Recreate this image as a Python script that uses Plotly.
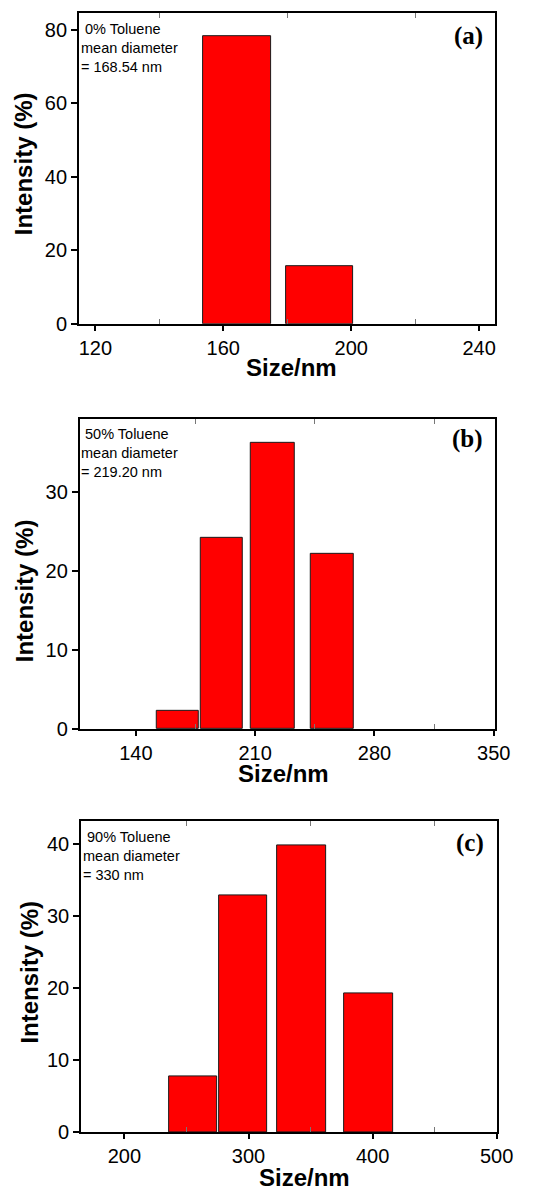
import plotly.graph_objects as go

W, H = 534, 1202

# Panel (a): 0% toluene
a_lo = [153.6, 179.5]
a_hi = [174.9, 200.7]
a_int = [78.2, 15.8]

# Panel (b): 50% toluene
b_lo = [152.0, 177.8, 207.5, 242.4]
b_hi = [177.0, 203.0, 233.0, 267.6]
b_int = [2.25, 24.15, 36.2, 22.15]

# Panel (c): 90% toluene
c_lo = [235.9, 276.3, 322.9, 377.2]
c_hi = [275.0, 315.2, 362.2, 416.3]
c_int = [7.77, 32.93, 39.9, 19.29]

a_ticks = [120, 160, 200, 240]
b_ticks = [140, 210, 280, 350]
c_ticks = [200, 300, 400, 500]

a_note = ["\u00a00% Toluene", "mean diameter", "= 168.54 nm"]
b_note = ["\u00a050% Toluene", "mean diameter", "= 219.20 nm"]
c_note = ["\u00a090% Toluene", "mean diameter", "= 330 nm"]

SANS = "Arial, Liberation Sans, sans-serif"
SERIF = "Times New Roman, Liberation Serif, serif"


def px_x(x):
    return x / W


def px_y(y):
    return 1 - y / H


panels = [
    # bins, ticks, note, tag, frame px (left, right, top, bottom), x range, y range, y dtick
    (a_lo, a_hi, a_int, a_ticks, a_note, "(a)", (81.7, 511.7, 13.3, 326.7), [114.9, 245.1], [0, 84.6], 20,
     dict(title=(301, 370.5), ytitle=(24.5, 165), tag=(484, 36))),
    (b_lo, b_hi, b_int, b_ticks, b_note, "(b)", (82.4, 511.7, 422.7, 735.7), [107.05, 351], [0, 39.2], 10,
     dict(title=(292.5, 780.5), ytitle=(25.5, 596), tag=(483, 443))),
    (c_lo, c_hi, c_int, c_ticks, c_note, "(c)", (83.8, 513.0, 829, 1142.7), [165.1, 500], [0, 43.2], 10,
     dict(title=(314, 1188.5), ytitle=(29.5, 981), tag=(485.5, 851))),
]

n = len(panels)
fig = go.Figure()
annotations = []

axis_line = dict(showline=True, linecolor="black", linewidth=2, showgrid=False, zeroline=False)

for i, (lo, hi, inten, ticks, note, tag, frame, xr, yr, ydt, pos) in enumerate(panels, start=1):
    xa = "x" if i == 1 else f"x{i}"
    ya = "y" if i == 1 else f"y{i}"
    centers = [(l + h) / 2 for l, h in zip(lo, hi)]
    widths = [h - l for l, h in zip(lo, hi)]
    fig.add_trace(go.Bar(
        x=centers, y=inten, width=widths,
        marker=dict(color="#FF0000", line=dict(color="#1a1a1a", width=1)),
        xaxis=xa, yaxis=ya, showlegend=False,
    ))
    left, right, top, bottom = frame
    dt = ticks[1] - ticks[0]
    minor_vals = [t + dt / 2 for t in ticks[:-1]]
    top_id = n + i
    fig.update_layout(**{
        ("xaxis" if i == 1 else f"xaxis{i}"): dict(
            domain=[px_x(left), px_x(right)], anchor=ya, range=xr,
            tickvals=ticks, ticks="outside", ticklen=5, tickwidth=1.5, tickcolor="black",
            mirror=True, **axis_line,
            tickfont=dict(family=SANS, size=20, color="black"),
            minor=dict(tickvals=minor_vals, ticks="inside",
                       ticklen=5, tickwidth=1, tickcolor="#777777", showgrid=False),
        ),
        # top edge: minor ticks only
        f"xaxis{top_id}": dict(
            overlaying=xa, anchor=ya, side="top", range=xr,
            showticklabels=False, tickvals=[], ticks="",
            showline=False, showgrid=False, zeroline=False,
            minor=dict(tickvals=minor_vals, ticks="inside",
                       ticklen=5, tickwidth=1, tickcolor="#777777", showgrid=False),
        ),
        ("yaxis" if i == 1 else f"yaxis{i}"): dict(
            domain=[px_y(bottom), px_y(top)], anchor=xa, range=yr,
            dtick=ydt, tick0=0, ticks="outside", ticklen=6, tickwidth=1.5, tickcolor="black",
            mirror=True, **axis_line,
            tickfont=dict(family=SANS, size=20, color="black"),
        ),
    })
    # an invisible trace keeps the top overlay axis drawn
    fig.add_trace(go.Scatter(x=[xr[0]], y=[0], mode="markers", marker=dict(opacity=0),
                             xaxis=f"x{top_id}", yaxis=ya, showlegend=False, hoverinfo="skip"))
    # axis titles
    tx, ty = pos["title"]
    annotations.append(dict(text="<b>Size/nm</b>", x=px_x(tx), y=px_y(ty), xref="paper", yref="paper",
                            showarrow=False, xanchor="center", yanchor="middle",
                            font=dict(family=SANS, size=24, color="black")))
    yx, yy = pos["ytitle"]
    annotations.append(dict(text="<b>Intensity (%)</b>", x=px_x(yx), y=px_y(yy), xref="paper", yref="paper",
                            showarrow=False, xanchor="center", yanchor="middle", textangle=-90,
                            font=dict(family=SANS, size=24, color="black")))
    # panel tag
    gx, gy = pos["tag"]
    annotations.append(dict(text=f"<b>{tag}</b>", x=px_x(gx), y=px_y(gy), xref="paper", yref="paper",
                            showarrow=False, xanchor="center", yanchor="middle",
                            font=dict(family=SERIF, size=25, color="black")))
    # sample note
    annotations.append(dict(text="<br>".join(note), x=px_x(left + 0.5), y=px_y(top + 6.5),
                            xref="paper", yref="paper", showarrow=False, align="left",
                            xanchor="left", yanchor="top", borderpad=0,
                            font=dict(family=SANS, size=14.5, color="black")))

fig.update_layout(
    width=W, height=H, margin=dict(l=0, r=0, t=0, b=0),
    paper_bgcolor="white", plot_bgcolor="white",
    bargap=0, annotations=annotations,
)

fig.write_html("out.html")
